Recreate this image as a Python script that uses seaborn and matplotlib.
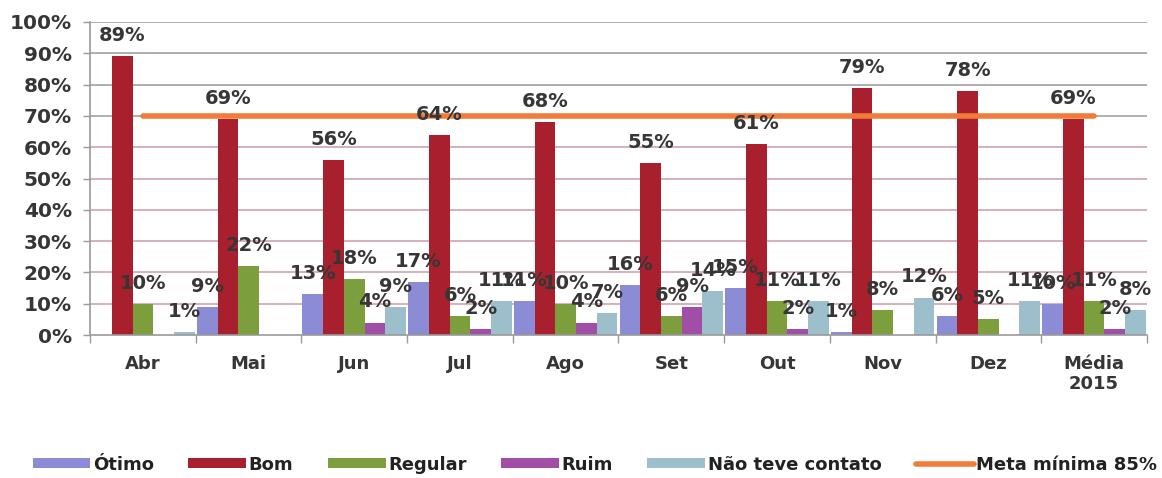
import numpy as np
import pandas as pd
import matplotlib
matplotlib.use("Agg")
import matplotlib.pyplot as plt
from matplotlib.patches import Patch
from matplotlib.lines import Line2D
import seaborn as sns

# Monthly satisfaction survey results (%)
meses = ["Abr", "Mai", "Jun", "Jul", "Ago", "Set", "Out", "Nov", "Dez", "Média\n2015"]
otimo = [0, 9, 13, 17, 11, 16, 15, 1, 6, 10]
bom = [89, 69, 56, 64, 68, 55, 61, 79, 78, 69]
regular = [10, 22, 18, 6, 10, 6, 11, 8, 5, 11]
ruim = [0, 0, 4, 2, 4, 9, 2, 0, 0, 2]
nao_contato = [1, 0, 9, 11, 7, 14, 11, 12, 11, 8]
meta = [70, 70, 70, 70, 70, 70, 70, 70, 70, 70]

series_nomes = ["Ótimo", "Bom", "Regular", "Ruim", "Não teve contato"]
series_valores = [otimo, bom, regular, ruim, nao_contato]
meta_nome = "Meta mínima 85%"

cores = ["#8C8CD6", "#A8202E", "#7C9E3C", "#A04EA6", "#9DBFCB"]
cor_meta = "#F37B3A"
cor_texto = "#363636"

df = pd.DataFrame(
    [(m, s, v) for s, vals in zip(series_nomes, series_valores) for m, v in zip(meses, vals)],
    columns=["mes", "serie", "valor"],
)

sns.set_theme(style="white")
plt.rcParams["font.family"] = ["DejaVu Sans"]

fig = plt.figure(figsize=(11.62, 4.78), dpi=100)
ax = fig.add_axes([0.0775, 0.299, 0.9095, 0.655])

sns.barplot(
    data=df, x="mes", y="valor", hue="serie", order=meses, hue_order=series_nomes,
    palette=cores, width=0.98, errorbar=None, ax=ax, legend=False,
    edgecolor="none", saturation=1,
)

# Target line across categories
sns.lineplot(x=np.arange(len(meses)), y=meta, color=cor_meta, linewidth=4,
             ax=ax, legend=False, zorder=4)

# Value labels on the bars
for cont, vals in zip(ax.containers, series_valores):
    ax.bar_label(cont, labels=[f"{v}%" if v > 0 else "" for v in vals],
                 padding=8, fontsize=14, fontweight="bold", color=cor_texto, zorder=5)

ax.set_ylim(0, 100)
ax.set_xlim(-0.5, len(meses) - 0.5)
ax.set_yticks(np.arange(0, 101, 10))
ax.set_yticklabels([f"{t}%" for t in range(0, 101, 10)])
ax.set_xlabel("")
ax.set_ylabel("")

# Horizontal gridlines, tinted in the middle band
for t in range(10, 101, 10):
    c = "#D6A9B6" if 10 <= t <= 60 else "#A8A8A8"
    ax.axhline(t, color=c, linewidth=1.3, zorder=0)

ax.tick_params(axis="y", labelsize=14.5, labelcolor=cor_texto, length=5,
               color="#9A9A9A", width=1, left=True, pad=8)
for lbl in ax.get_yticklabels():
    lbl.set_fontweight("bold")

ax.set_xticks(np.arange(len(meses)))
ax.set_xticklabels(meses, fontsize=13, fontweight="bold", color=cor_texto)
ax.tick_params(axis="x", which="major", length=0, pad=14)
ax.set_xticks(np.arange(len(meses) + 1) - 0.5, minor=True)
ax.tick_params(axis="x", which="minor", length=6, color="#9A9A9A", width=1, bottom=True)

for side in ["top", "right"]:
    ax.spines[side].set_visible(False)
for side in ["left", "bottom"]:
    ax.spines[side].set_color("#9A9A9A")
    ax.spines[side].set_linewidth(1.2)

handles = [Patch(facecolor=c, edgecolor="none") for c in cores]
handles.append(Line2D([0], [0], color=cor_meta, linewidth=4))
leg = fig.legend(
    handles, series_nomes + [meta_nome], loc="center", bbox_to_anchor=(0.512, 0.028),
    ncol=6, frameon=False, handlelength=3.2, handleheight=0.5, handletextpad=0.15,
    columnspacing=1.9,
    prop={"family": "DejaVu Sans", "weight": "bold", "size": 13},
)
for t in leg.get_texts():
    t.set_color("#222222")

fig.savefig("out.png", dpi=100)
